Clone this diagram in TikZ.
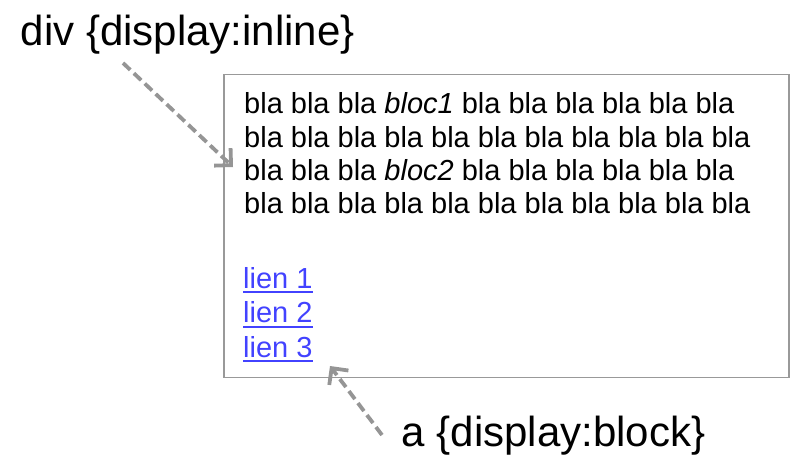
\documentclass[tikz,border=0pt]{standalone}
\usepackage{fontspec}
\setmainfont{Liberation Sans}
\definecolor{framegray}{HTML}{999999}
\definecolor{arrowgray}{HTML}{959595}
\definecolor{linkblue}{RGB}{66,66,255}
\usetikzlibrary{arrows.meta,positioning}
\newcommand\linkul[1]{\setbox0\hbox{#1}\rlap{\rule[-5pt]{\wd0}{2.2pt}}\box0}

\begin{document}
\begin{tikzpicture}[x=1pt, y=-1pt,
        page/.style={draw=framegray, line width=1.8pt, inner sep=0pt,
                     minimum width=565pt, minimum height=303pt},
        lbl/.style={font=\fontsize{42}{48}\selectfont, inner sep=0pt, anchor=base west},
        body/.style={font=\fontsize{29}{33.3}\selectfont, align=left,
                     inner sep=0pt, anchor=north west},
        links/.style={font=\fontsize{29}{34.5}\selectfont, align=left,
                      inner sep=0pt, anchor=north west, text=linkblue},
        arr/.style={arrowgray, line width=3.8pt, dash pattern=on 10pt off 5pt,
                    -{Straight Barb[length=12pt, width=24pt]}}
      ]
        \useasboundingbox (0,0) rectangle (798,458);
        \node[page, anchor=north west] (page) at (223,73.5) {};
        \node[body] (text) at (244,92.5) {bla bla bla \textit{bloc1} bla bla bla bla bla bla\\
          bla bla bla bla bla bla bla bla bla bla bla\\
          bla bla bla \textit{bloc2} bla bla bla bla bla bla\\
          bla bla bla bla bla bla bla bla bla bla bla};
        \node[links] (links) at (243,267) {\linkul{lien 1}\\ \linkul{lien 2}\\ \linkul{lien 3}};
        \node[lbl] (divlbl) at (20.5,45) {div \{display:inline\}};
        \node[lbl] (albl) at (401.5,446) {a \{display:block\}};
        % pointers
        \coordinate (inltail) at (123,63);
        \coordinate (inltip) at (233,167);
        \coordinate (blktail) at (382,435);
        \coordinate (blktip) at (330,366);
        \draw[arr] (inltail) -- (inltip);
        \draw[arr] (blktail) -- (blktip);
      \end{tikzpicture}
\end{document}
